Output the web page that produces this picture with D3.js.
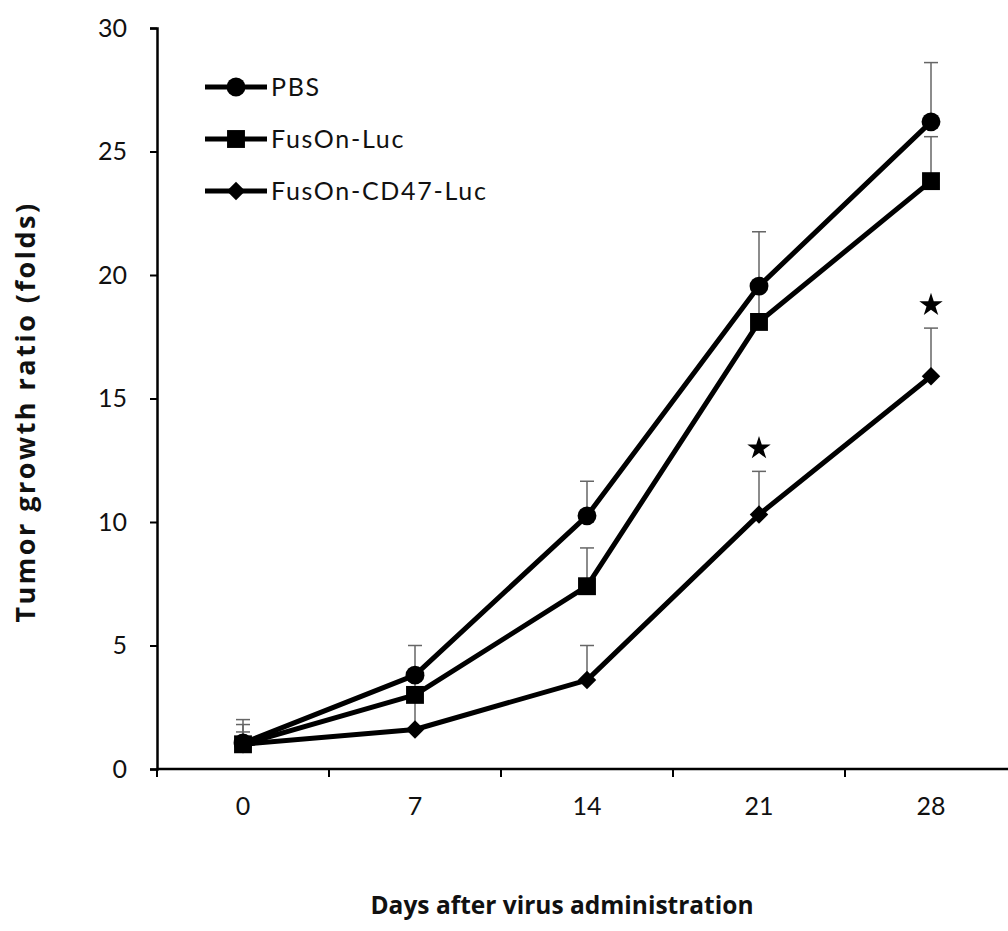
<!DOCTYPE html>
<html>
<head>
<meta charset="utf-8">
<script src="https://cdn.jsdelivr.net/npm/d3@7"></script>
<style>
  body { margin: 0; background: #fff; }
  text { font-family: Lato, "Open Sans", sans-serif; }
  text.title { font-family: "Open Sans", sans-serif; font-weight: bold; }
</style>
</head>
<body>
<div class="chart"></div>
<script>
const days = ['0', '7', '14', '21', '28'];
const yTicks = [0, 5, 10, 15, 20, 25, 30];

const pbs = [1.05, 3.8, 10.25, 19.55, 26.2];
const pbsErr = [0.95, 1.2, 1.4, 2.2, 2.4];
const fusonLuc = [1.0, 3.0, 7.4, 18.1, 23.8];
const fusonLucErr = [0.8, 0.8, 1.55, 1.3, 1.8];
const fusonCD47 = [1.0, 1.6, 3.6, 10.3, 15.9];
const fusonCD47Err = [0.5, 1.4, 1.4, 1.75, 1.95];
const starDays = ['21', '28'];

const series = [
  { name: 'PBS', values: pbs, err: pbsErr, symbol: d3.symbolCircle, size: 280, rot: 0 },
  { name: 'FusOn-Luc', values: fusonLuc, err: fusonLucErr, symbol: d3.symbolSquare, size: 320, rot: 0 },
  { name: 'FusOn-CD47-Luc', values: fusonCD47, err: fusonCD47Err, symbol: d3.symbolSquare, size: 170, rot: 45 }
];

const margin = { top: 28, right: 0, bottom: 162, left: 157 };
const width = 1008, height = 931;
const graphWidth = 860;
const graphHeight = height - margin.top - margin.bottom;

const svg = d3.select('.chart').append('svg')
  .attr('width', width)
  .attr('height', height);

const graph = svg.append('g')
  .attr('transform', `translate(${margin.left}, ${margin.top})`);

const x = d3.scaleBand().domain(days).range([0, graphWidth]);
const y = d3.scaleLinear().domain([0, 30]).range([graphHeight, 0]);
const cx = (d) => x(d) + x.bandwidth() / 2;

// axes
const yAxis = d3.axisLeft(y).tickValues(yTicks).tickSize(7).tickPadding(23);
const yAxisGroup = graph.append('g').call(yAxis);
yAxisGroup.select('.domain').attr('stroke-width', 2.5);
yAxisGroup.selectAll('.tick line').attr('stroke-width', 2);
yAxisGroup.selectAll('text')
  .style('font-family', 'Lato, sans-serif')
  .attr('font-size', 25).attr('fill', '#111');

const xAxisGroup = graph.append('g')
  .attr('transform', `translate(0, ${graphHeight})`);
xAxisGroup.append('line')
  .attr('x1', 0).attr('x2', graphWidth)
  .attr('stroke', '#000').attr('stroke-width', 2.5);
xAxisGroup.selectAll('.xtick')
  .data(days.slice(1))
  .enter().append('line')
  .attr('x1', (d) => x(d)).attr('x2', (d) => x(d))
  .attr('y1', 0).attr('y2', 8)
  .attr('stroke', '#000').attr('stroke-width', 2);
xAxisGroup.append('line')
  .attr('x1', 0).attr('x2', 0).attr('y1', 0).attr('y2', 8)
  .attr('stroke', '#000').attr('stroke-width', 2);
xAxisGroup.selectAll('.xlabel')
  .data(days)
  .enter().append('text')
  .attr('x', (d) => cx(d))
  .attr('y', 46)
  .attr('text-anchor', 'middle')
  .attr('font-size', 25)
  .attr('fill', '#111')
  .text((d) => d);

// error bars
series.forEach((s) => {
  const eb = graph.append('g').attr('stroke', '#666').attr('stroke-width', 1.5);
  days.forEach((d, i) => {
    const top = y(s.values[i] + s.err[i]);
    eb.append('line')
      .attr('x1', cx(d)).attr('x2', cx(d))
      .attr('y1', y(s.values[i])).attr('y2', top);
    eb.append('line')
      .attr('x1', cx(d) - 7).attr('x2', cx(d) + 7)
      .attr('y1', top).attr('y2', top);
  });
});

// lines and markers
const line = d3.line()
  .x((d, i) => cx(days[i]))
  .y((d) => y(d));

series.forEach((s) => {
  graph.append('path')
    .datum(s.values)
    .attr('fill', 'none')
    .attr('stroke', '#000')
    .attr('stroke-width', 5)
    .attr('stroke-linejoin', 'round')
    .attr('d', line);
});

series.forEach((s) => {
  graph.selectAll(null)
    .data(s.values)
    .enter().append('path')
    .attr('transform', (d, i) => `translate(${cx(days[i])}, ${y(d)}) rotate(${s.rot})`)
    .attr('d', d3.symbol().type(s.symbol).size(s.size))
    .attr('fill', '#000');
});

// significance stars
graph.selectAll('.star')
  .data(starDays)
  .enter().append('path')
  .attr('transform', (d) => {
    const i = days.indexOf(d);
    return `translate(${cx(d)}, ${y(fusonCD47[i] + fusonCD47Err[i]) - 23})`;
  })
  .attr('d', d3.symbol().type(d3.symbolStar).size(170))
  .attr('fill', '#000');

// legend
const legend = graph.append('g').attr('transform', 'translate(48, 59)');
series.forEach((s, i) => {
  const row = legend.append('g').attr('transform', `translate(0, ${i * 52})`);
  row.append('line')
    .attr('x1', 0).attr('x2', 62)
    .attr('stroke', '#000').attr('stroke-width', 5);
  row.append('path')
    .attr('transform', `translate(31, 0) rotate(${s.rot})`)
    .attr('d', d3.symbol().type(s.symbol).size(s.size))
    .attr('fill', '#000');
  row.append('text')
    .attr('x', 66)
    .attr('y', 9)
    .attr('font-size', 25)
    .attr('letter-spacing', 1.7)
    .attr('fill', '#111')
    .text(s.name);
});

// axis titles
svg.append('text')
  .attr('class', 'title')
  .attr('x', 562)
  .attr('y', 914)
  .attr('text-anchor', 'middle')
  .attr('font-size', 24.5)
  .attr('fill', '#111')
  .text('Days after virus administration');

svg.append('text')
  .attr('class', 'title')
  .attr('transform', 'translate(35, 412) rotate(-90)')
  .attr('text-anchor', 'middle')
  .attr('font-size', 27)
  .attr('letter-spacing', 2.5)
  .attr('fill', '#111')
  .text('Tumor growth ratio (folds)');
</script>
</body>
</html>
